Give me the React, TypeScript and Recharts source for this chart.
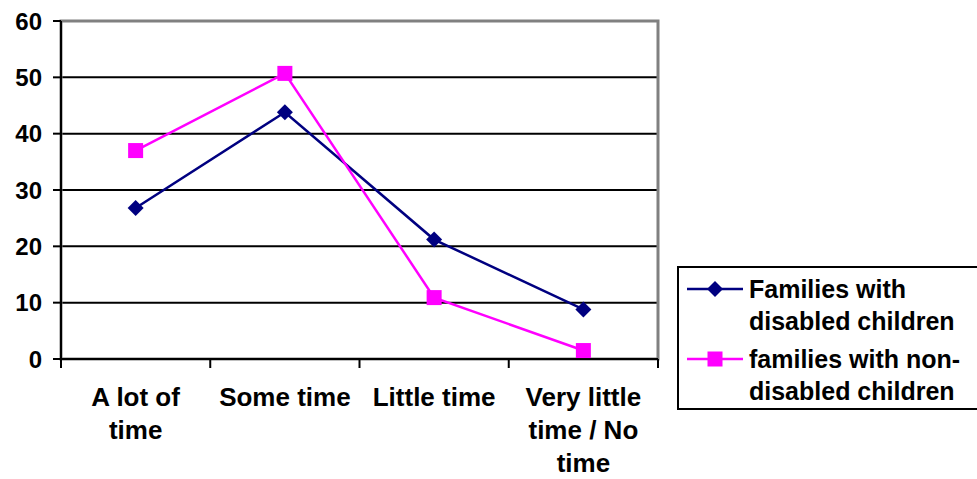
import React from "react";
import {
  LineChart,
  Line,
  XAxis,
  YAxis,
  CartesianGrid,
  ReferenceArea,
} from "recharts";

const categories = ["A lot of\ntime", "Some time", "Little time", "Very little\ntime / No\ntime"];
const disabledFamilies = [26.8, 43.8, 21.2, 8.8];
const nonDisabledFamilies = [37, 50.7, 10.9, 1.5];
const yTicks = [0, 10, 20, 30, 40, 50, 60];

const data = categories.map((c, i) => ({
  category: c,
  disabled: disabledFamilies[i],
  nonDisabled: nonDisabledFamilies[i],
}));

const FONT = "'Liberation Sans', Arial, sans-serif";
const NAVY = "#000080";
const MAGENTA = "#FF00FF";

const Diamond = (props: any) => {
  const { cx, cy } = props;
  if (cx == null || cy == null) return null;
  const r = 8;
  return (
    <path
      d={`M${cx},${cy - r} L${cx + r},${cy} L${cx},${cy + r} L${cx - r},${cy} Z`}
      fill={NAVY}
    />
  );
};

const Square = (props: any) => {
  const { cx, cy } = props;
  if (cx == null || cy == null) return null;
  const s = 15;
  return <rect x={cx - s / 2} y={cy - s / 2} width={s} height={s} fill={MAGENTA} />;
};

// labels centred in each band, tick marks on the band edges (Excel style)
const CategoryTick = (props: any) => {
  const { x, y, payload, index } = props;
  const half = payload.offset ?? 0;
  const lines = String(payload.value).split("\n");
  return (
    <g>
      {index === 0 && (
        <line x1={x - half} x2={x - half} y1={y} y2={y + 9} stroke="#000" strokeWidth={2} />
      )}
      <line x1={x + half} x2={x + half} y1={y} y2={y + 9} stroke="#000" strokeWidth={2} />
      <text
        x={x}
        y={y + 47}
        textAnchor="middle"
        fontFamily={FONT}
        fontWeight="bold"
        fontSize={26}
        fill="#000"
      >
        {lines.map((l, i) => (
          <tspan key={i} x={x} dy={i === 0 ? 0 : 33}>
            {l}
          </tspan>
        ))}
      </text>
    </g>
  );
};

const legendItems = [
  { label: "Families with disabled children", color: NAVY, marker: "diamond" },
  { label: "families with non-disabled children", color: MAGENTA, marker: "square" },
];

const LegendBox = () => (
  <div
    style={{
      position: "absolute",
      left: 677,
      top: 266,
      border: "2px solid #000",
      background: "#fff",
      width: 310,
      padding: "5px 0 1px 8px",
      boxSizing: "border-box",
      fontFamily: FONT,
      fontWeight: "bold",
      fontSize: 25,
      lineHeight: "32px",
      color: "#000",
    }}
  >
    {legendItems.map((it, i) => (
      <div key={i} style={{ display: "flex", alignItems: "flex-start", marginTop: i === 0 ? 0 : 6 }}>
        <svg width={58} height={32} style={{ flex: "none" }}>
          <line x1={0} x2={56} y1={16} y2={16} stroke={it.color} strokeWidth={2.5} />
          {it.marker === "diamond" ? (
            <path d="M28,8 L36,16 L28,24 L20,16 Z" fill={it.color} />
          ) : (
            <rect x={20.5} y={8.5} width={15} height={15} fill={it.color} />
          )}
        </svg>
        <div style={{ width: 225, paddingLeft: 4 }}>{it.label}</div>
      </div>
    ))}
  </div>
);

export default function App() {
  return (
    <div style={{ position: "fixed", left: 0, top: 0, width: 977, height: 479, background: "#fff", overflow: "hidden" }}>
      <LineChart
        width={977}
        height={479}
        data={data}
        margin={{ top: 21, right: 319, bottom: 0, left: 0 }}
      >
        <CartesianGrid horizontal vertical={false} stroke="#000" strokeWidth={2} strokeOpacity={1} />
        <ReferenceArea y1={0} y2={60} fill="none" stroke="#808080" strokeWidth={3} ifOverflow="visible" />
        <XAxis
          dataKey="category"
          scale="band"
          height={120}
          interval={0}
          tickLine={false}
          tickSize={0}
          tickMargin={0}
          axisLine={{ stroke: "#000", strokeWidth: 2 }}
          tick={<CategoryTick />}
        />
        <YAxis
          width={61}
          domain={[0, 60]}
          ticks={yTicks}
          interval={0}
          tickSize={8}
          tickMargin={11}
          axisLine={{ stroke: "#000", strokeWidth: 2 }}
          tickLine={{ stroke: "#000", strokeWidth: 2 }}
          tick={{ fill: "#000", fontSize: 24, fontWeight: "bold", fontFamily: FONT }}
        />
        <Line
          dataKey="disabled"
          name="Families with disabled children"
          stroke={NAVY}
          strokeWidth={2.5}
          dot={<Diamond />}
          activeDot={false}
          isAnimationActive={false}
        />
        <Line
          dataKey="nonDisabled"
          name="families with non-disabled children"
          stroke={MAGENTA}
          strokeWidth={2.5}
          dot={<Square />}
          activeDot={false}
          isAnimationActive={false}
        />
      </LineChart>
      <LegendBox />
    </div>
  );
}
